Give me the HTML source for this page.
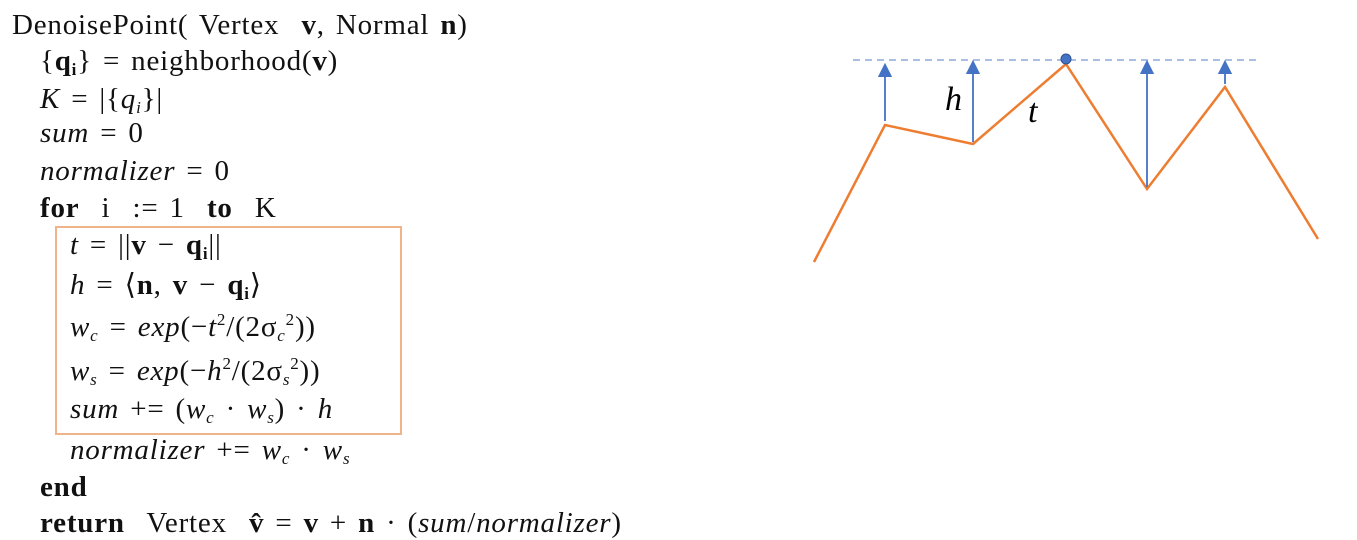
<!DOCTYPE html>
<html><head><meta charset="utf-8"><style>
body{margin:0;width:1357px;height:540px;background:#fff;position:relative;overflow:hidden;font-family:"Liberation Serif",serif;color:#111}
.l{position:absolute;font-size:29px;white-space:nowrap;line-height:1;letter-spacing:0.8px;word-spacing:3px}
i{font-style:italic}
sub{font-size:17px;vertical-align:-5px}
sup{font-size:17px;vertical-align:11px}
</style></head><body>
<div class="l" style="left:12px;top:11px">DenoisePoint( Vertex&nbsp; <b>v</b>, Normal <b>n</b>)</div>
<div class="l" style="left:40px;top:47px">{<b>q<sub>i</sub></b>} = neighborhood(<b>v</b>)</div>
<div class="l" style="left:40px;top:85px"><i>K</i> = |{<i>q<sub>i</sub></i>}|</div>
<div class="l" style="left:40px;top:119px"><i>sum</i> = 0</div>
<div class="l" style="left:40px;top:157px"><i>normalizer</i> = 0</div>
<div class="l" style="left:40px;top:194px"><b>for</b>&nbsp; i&nbsp; := 1&nbsp; <b>to</b>&nbsp; K</div>
<div style="position:absolute;left:55px;top:226px;width:343px;height:205px;border:2px solid #f0b48a"></div>
<div class="l" style="left:70px;top:231px"><i>t</i> = ||<b>v</b> − <b>q<sub>i</sub></b>||</div>
<div class="l" style="left:70px;top:271px"><i>h</i> = ⟨<b>n</b>, <b>v</b> − <b>q<sub>i</sub></b>⟩</div>
<div class="l" style="left:70px;top:311px"><i>w<sub>c</sub></i> = <i>exp</i>(−<i>t</i><sup>2</sup>/(2σ<sub><i>c</i></sub><sup>2</sup>))</div>
<div class="l" style="left:70px;top:355px"><i>w<sub>s</sub></i> = <i>exp</i>(−<i>h</i><sup>2</sup>/(2σ<sub><i>s</i></sub><sup>2</sup>))</div>
<div class="l" style="left:70px;top:395px"><i>sum</i> += (<i>w<sub>c</sub></i> · <i>w<sub>s</sub></i>) · <i>h</i></div>
<div class="l" style="left:70px;top:436px"><i>normalizer</i> += <i>w<sub>c</sub></i> · <i>w<sub>s</sub></i></div>
<div class="l" style="left:40px;top:473px"><b>end</b></div>
<div class="l" style="left:40px;top:509px"><b>return</b>&nbsp; Vertex&nbsp; <b>v̂</b> = <b>v</b> + <b>n</b> · (<i>sum</i>/<i>normalizer</i>)</div>

<svg style="position:absolute;left:0;top:0" width="1357" height="540">
<defs><marker id="ah" markerWidth="8" markerHeight="8" refX="4" refY="4" orient="auto"><path d="M0,0 L8,4 L0,8 z" fill="#4472c4"/></marker></defs>
<line x1="853" y1="60" x2="1260" y2="60" stroke="#8faadc" stroke-width="1.5" stroke-dasharray="7,5"/>
<polyline points="814,262 885,125 973,144 1066,64 1147,189 1225,87 1318,239" fill="none" stroke="#ed7d31" stroke-width="2.5"/>
<g stroke="#4472c4" stroke-width="1.8" marker-end="url(#ah)">
<line x1="885" y1="121" x2="885" y2="70"/>
<line x1="973" y1="142" x2="973" y2="67"/>
<line x1="1147" y1="187" x2="1147" y2="67"/>
<line x1="1225" y1="84" x2="1225" y2="67"/>
</g>
<circle cx="1066" cy="59" r="5" fill="#4472c4" stroke="#2f528f" stroke-width="1"/>
<text x="945" y="110" font-family="Liberation Serif, serif" font-style="italic" font-size="34">h</text>
<text x="1028" y="122" font-family="Liberation Serif, serif" font-style="italic" font-size="34">t</text>
</svg>
</body></html>
